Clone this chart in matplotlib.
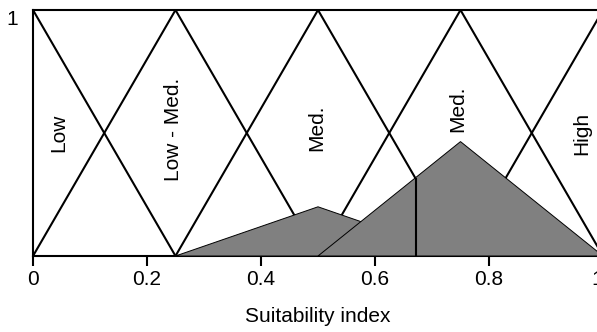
import matplotlib.pyplot as plt
from matplotlib.transforms import ScaledTranslation

plt.rcParams['font.family'] = ['Liberation Sans', 'DejaVu Sans']

# membership functions (x breakpoints, y values)
mf_names = ['Low', 'Low - Med.', 'Med.', 'Med.', 'High']
mf_x = [[0, 0.25], [0, 0.25, 0.5], [0.25, 0.5, 0.75], [0.5, 0.75, 1.0], [0.75, 1.0]]
mf_y = [[1, 0], [0, 1, 0], [0, 1, 0], [0, 1, 0], [0, 1]]

# label positions (x, y in data units)
label_x = [0.046, 0.246, 0.498, 0.746, 0.963]
label_y = [0.5, 0.516, 0.522, 0.6, 0.5]

# aggregated output shapes
out1_x = [0.25, 0.5, 0.75]
out1_y = [0, 0.2, 0]
out2_x = [0.5, 0.75, 1.0]
out2_y = [0, 0.465, 0]

# centroid line
centroid_x = 0.672
centroid_h = 0.312

fig = plt.figure(figsize=(5.97, 3.32), dpi=100)
ax = fig.add_axes([33 / 597, 76 / 332, 570 / 597, 246 / 332])

for xs, ys in zip(mf_x, mf_y):
    ax.plot(xs, ys, color='black', lw=1.5, zorder=2)

for name, lx, ly in zip(mf_names, label_x, label_y):
    ax.text(lx, ly, name, rotation=90, ha='center', va='center', fontsize=15, zorder=1)

ax.fill(out1_x, out1_y, facecolor='#808080', edgecolor='black', lw=0.7, zorder=3)
ax.fill(out2_x, out2_y, facecolor='#808080', edgecolor='black', lw=0.7, zorder=4)
ax.plot([centroid_x, centroid_x], [0, centroid_h], color='black', lw=1.5, zorder=5)

ax.set_xlim(0, 1)
ax.set_ylim(0, 1)
ax.set_xticks([0, 0.2, 0.4, 0.6, 0.8, 1.0])
ax.set_xticklabels(['0', '0.2', '0.4', '0.6', '0.8', '1'])
ax.set_xticks([0.2], minor=True)
ax.set_yticks([1])
ax.set_yticklabels(['1'])
for lab in ax.get_yticklabels():
    lab.set_va('top')

ax.tick_params(axis='x', which='major', direction='out', length=7, width=1.5, labelsize=15, pad=3)
ax.tick_params(axis='x', which='minor', direction='in', length=7, width=1.5)
ax.tick_params(axis='y', length=0, labelsize=15, pad=11)

# the last tick label sits a little left of its tick, half cut by the edge
last = ax.get_xticklabels()[-1]
last.set_transform(last.get_transform() + ScaledTranslation(-6 / 100, 0, fig.dpi_scale_trans))

for sp in ax.spines.values():
    sp.set_linewidth(1.5)

ax.set_xlabel('Suitability index', fontsize=15, labelpad=13)

plt.savefig('out.png', dpi=100)
